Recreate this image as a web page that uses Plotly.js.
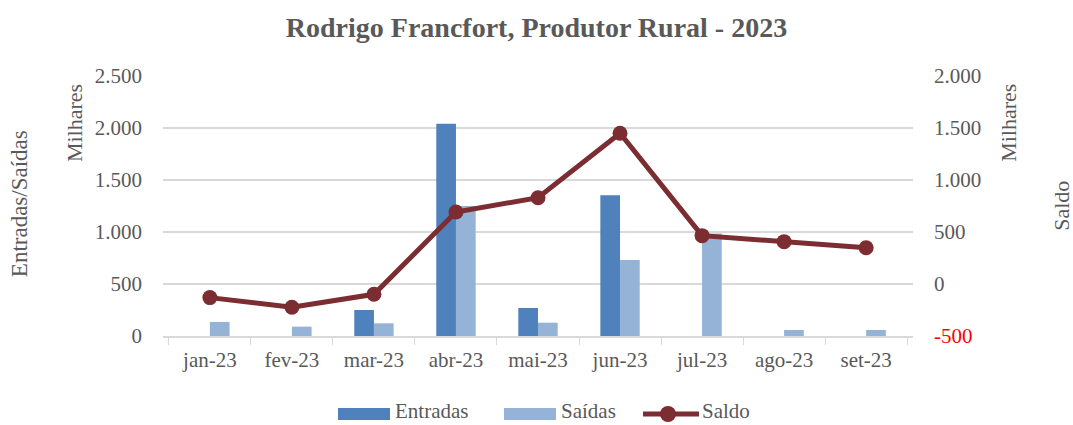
<!DOCTYPE html>
<html>
<head>
<meta charset="utf-8">
<script src="https://cdn.plot.ly/plotly-3.0.1.min.js"></script>
<style>html,body{margin:0;padding:0;background:#fff;}#chart{width:1073px;height:425px;}</style>
</head>
<body>
<div id="chart"></div>
<script>
const months = ['jan-23','fev-23','mar-23','abr-23','mai-23','jun-23','jul-23','ago-23','set-23'];
// values in thousands (Milhares)
const entradas = [0, 0, 250, 2040, 269, 1353, 0, 0, 0];
const saidas = [135, 90, 122, 1250, 128, 731, 985, 58, 58];
const saldo = [-131, -224, -99, 692, 830, 1449, 465, 407, 349];
const leftTicks = [0, 500, 1000, 1500, 2000, 2500];
const leftTickText = ['0', '500', '1.000', '1.500', '2.000', '2.500'];
const rightTicks = [-500, 0, 500, 1000, 1500, 2000];
const rightTickText = ['<span style="color:#FF0000">-500</span>', '0', '500', '1.000', '1.500', '2.000'];
const seriesNames = ['Entradas', 'Saídas', 'Saldo'];
const seriesColors = ['#4F81BD', '#95B3D7', '#7B2D31'];

const FONT = 'Liberation Serif, Times New Roman, serif';
const GRAY = '#595959';

const traces = [
  {type:'bar', name:seriesNames[0], x:months, y:entradas, marker:{color:seriesColors[0]}, yaxis:'y'},
  {type:'bar', name:seriesNames[1], x:months, y:saidas, marker:{color:seriesColors[1]}, yaxis:'y'},
  {type:'scatter', mode:'lines+markers', name:seriesNames[2], x:months, y:saldo, yaxis:'y2',
   line:{color:seriesColors[2], width:5}, marker:{color:seriesColors[2], size:15}}
];

// custom legend (pixel -> paper conversion helpers)
const PL = 163, PR = 913, PT = 76, PB = 336;
const px = v => (v - PL) / (PR - PL);
const py = v => (PB - v) / (PB - PT);

const shapes = [
  {type:'rect', xref:'paper', yref:'paper', x0:px(338), x1:px(390), y0:py(408), y1:py(420), fillcolor:seriesColors[0], line:{width:0}},
  {type:'rect', xref:'paper', yref:'paper', x0:px(504), x1:px(556), y0:py(408), y1:py(420), fillcolor:seriesColors[1], line:{width:0}},
  {type:'line', xref:'paper', yref:'paper', x0:px(643), x1:px(699), y0:py(414), y1:py(414), line:{color:seriesColors[2], width:5}},
  {type:'circle', xref:'paper', yref:'paper', x0:px(660), x1:px(676), y0:py(406), y1:py(422), fillcolor:seriesColors[2], line:{width:0}}
];

const legendText = [
  {text:seriesNames[0], x:px(394)},
  {text:seriesNames[1], x:px(560)},
  {text:seriesNames[2], x:px(701)}
].map(o => ({text:o.text, xref:'paper', yref:'paper', x:o.x, y:py(424), xanchor:'left', yanchor:'bottom', showarrow:false,
             borderpad:0, font:{family:FONT, size:21, color:GRAY}}));

const layout = {
  width:1073, height:425,
  margin:{l:163, r:160, t:76, b:89},
  paper_bgcolor:'#fff', plot_bgcolor:'#fff',
  separators:',.',
  font:{family:FONT, color:GRAY, size:21},
  title:{text:'<b>Rodrigo Francfort, Produtor Rural - 2023</b>', x:0.5, xanchor:'center', y:0.935, yanchor:'middle',
         font:{family:FONT, size:28, color:GRAY}},
  barmode:'group', bargap:0.52, bargroupgap:0,
  showlegend:false,
  xaxis:{type:'category', tickson:'boundaries', ticks:'outside', ticklen:7, tickcolor:'#D9D9D9',
         showline:true, linecolor:'#D9D9D9', linewidth:1.5, showgrid:false, ticklabelstandoff:4,
         tickfont:{family:FONT, size:21, color:GRAY}},
  yaxis:{range:[0,2500], tickvals:leftTicks, ticktext:leftTickText, showgrid:true, gridcolor:'#D9D9D9', gridwidth:1.5,
         zeroline:false, showline:false, ticks:'', tickfont:{family:FONT, size:21, color:GRAY}, ticklabelstandoff:20},
  yaxis2:{range:[-500,2000], overlaying:'y', side:'right', tickvals:rightTicks, ticktext:rightTickText,
          showgrid:false, zeroline:false, showline:false, ticks:'', tickfont:{family:FONT, size:21, color:GRAY}, ticklabelstandoff:20},
  shapes:shapes,
  annotations:[
    {text:'Entradas/Saídas', xref:'paper', yref:'paper', x:-0.191, y:0.51, textangle:-90, showarrow:false,
     xanchor:'center', yanchor:'middle', font:{family:FONT, size:23, color:GRAY}},
    {text:'Milhares', xref:'paper', yref:'paper', x:-0.117, y:0.82, textangle:-90, showarrow:false,
     xanchor:'center', yanchor:'middle', font:{family:FONT, size:22, color:GRAY}},
    {text:'Milhares', xref:'paper', yref:'paper', x:1.128, y:0.82, textangle:-90, showarrow:false,
     xanchor:'center', yanchor:'middle', font:{family:FONT, size:22, color:GRAY}},
    {text:'Saldo', xref:'paper', yref:'paper', x:1.197, y:0.5, textangle:-90, showarrow:false,
     xanchor:'center', yanchor:'middle', font:{family:FONT, size:22, color:GRAY}}
  ].concat(legendText)
};

Plotly.newPlot('chart', traces, layout, {displayModeBar:false, staticPlot:true});
</script>
</body>
</html>
